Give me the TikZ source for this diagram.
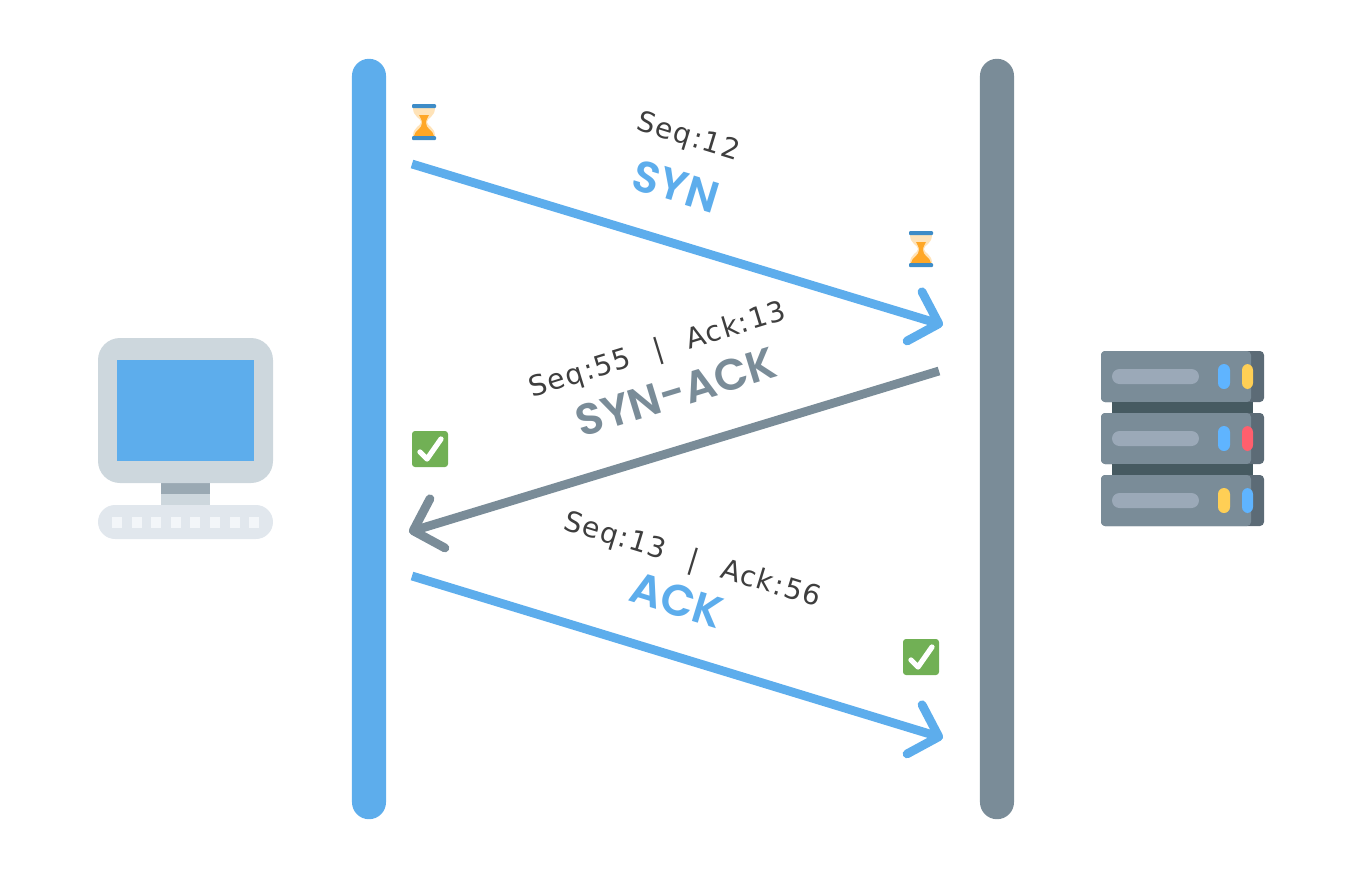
\documentclass[tikz,border=0pt]{standalone}
\usepackage{fontspec}
\setmainfont{DejaVu Sans}
\newfontfamily\seqfont[LetterSpace=5,WordSpace=2.4]{DejaVu Sans}
\newfontfamily\flagfont{Poppins SemiBold}
\usepackage{tikz}
\usetikzlibrary{arrows.meta}
\definecolor{cblue}{HTML}{5DADEC}
\definecolor{sgray}{HTML}{7A8C98}
\definecolor{sdark}{HTML}{5C6B76}
\definecolor{sbelt}{HTML}{465A61}
\definecolor{spill}{HTML}{9BA9B8}
\definecolor{frame}{HTML}{CDD7DD}
\definecolor{stem}{HTML}{9AA9B3}
\definecolor{board}{HTML}{E1E7ED}
\definecolor{keycap}{HTML}{F3F6F9}
\definecolor{ledblue}{HTML}{5FB4FF}
\definecolor{ledyellow}{HTML}{FFCF55}
\definecolor{ledred}{HTML}{FF5F6D}
\definecolor{sandlight}{HTML}{FFE3B8}
\definecolor{sand}{HTML}{FFA726}
\definecolor{glassbar}{HTML}{3E8CC7}
\definecolor{okgreen}{HTML}{71B055}
\definecolor{txtgray}{HTML}{3E3E3E}

\begin{document}
\begin{tikzpicture}[x=0.01cm, y=-0.01cm,
  lifeline/.style={rounded corners=0.17cm, minimum width=0.34cm, minimum height=7.6cm, inner sep=0pt},
  msg/.style={line width=2.5pt, -{Straight Barb[length=7.2pt,width=14.6pt,round]}},
  seqlabel/.style={font=\seqfont\fontsize{8}{10}\selectfont, text=txtgray, inner sep=0pt},
  flaglabel/.style={font=\flagfont\fontsize{12.5}{15}\selectfont, inner sep=0pt},
  hourglass/.pic={
    \fill[sandlight] (-11,4) -- (11,4) .. controls (11,13) and (3,14) .. (3,18) .. controls (3,22) and (11,23) .. (11,32) -- (-11,32) .. controls (-11,23) and (-3,22) .. (-3,18) .. controls (-3,14) and (-11,13) .. (-11,4) -- cycle;
    \fill[sand] (-5,11) -- (5,11) .. controls (4,14) and (2,15) .. (2,19) .. controls (2,25) and (9,26) .. (10,32) -- (-10,32) .. controls (-9,26) and (-2,25) .. (-2,19) .. controls (-2,15) and (-4,14) .. (-5,11) -- cycle;
    \fill[glassbar, rounded corners=0.01cm] (-12,0) rectangle (12,4);
    \fill[glassbar, rounded corners=0.01cm] (-12,32) rectangle (12,36);
  },
  checkbox/.pic={
    \fill[okgreen, rounded corners=0.03cm] (0,0) rectangle (36,36);
    \draw[white, line width=1.5pt, line cap=round, line join=round] (8,21) -- (15,28) -- (29,8);
  }]
  \useasboundingbox (0,0) rectangle (1350,878);
  \node[lifeline, fill=cblue] (client) at (369,439) {};
  \node[lifeline, fill=sgray] (server) at (997,439) {};

  \coordinate (synfrom) at (412,164);
  \coordinate (synto) at (943,325);
  \coordinate (sackfrom) at (939,371);
  \coordinate (sackto) at (409,532);
  \coordinate (ackfrom) at (412,576);
  \coordinate (ackto) at (943,738);
  \draw[msg, cblue] (synfrom) -- (synto);
  \draw[msg, sgray] (sackfrom) -- (sackto);
  \draw[msg, cblue] (ackfrom) -- (ackto);

  \node[seqlabel, rotate=-17] (synseq) at (688,138) {Seq:12};
  \node[flaglabel, rotate=-17, text=cblue] (synflag) at (676,186) {SYN};
  \node[seqlabel, rotate=17] (sackseq) at (658,351) {Seq:55 | Ack:13};
  \node[flaglabel, rotate=17, text=sgray] (sackflag) at (676,392) {SYN-ACK};
  \node[seqlabel, rotate=-17] (ackseq) at (692,561) {Seq:13 | Ack:56};
  \node[flaglabel, rotate=-17, text=cblue] (ackflag) at (677,600) {ACK};

  \pic at (424,104) {hourglass};
  \pic at (921,231) {hourglass};
  \pic at (412,431) {checkbox};
  \pic at (903,639) {checkbox};

  \fill[frame] (161,480) rectangle (210,506);
  \fill[stem] (161,483) rectangle (210,494);
  \fill[frame, rounded corners=0.22cm] (98,338) rectangle (273,483);
  \fill[cblue] (117,360) rectangle (254,461);
  \fill[board, rounded corners=0.17cm] (98,505) rectangle (273,539);
  \foreach \k in {0,...,7}
    \fill[keycap] ({112+19.6*\k},517) rectangle ++(10,11);

  \foreach \y/\ledone/\ledtwo in {351/ledblue/ledyellow, 413/ledblue/ledred, 475/ledyellow/ledblue} {
    \fill[sdark, rounded corners=0.04cm] (1101,\y) rectangle ++(163,51);
    \fill[sgray, rounded corners=0.04cm] (1101,\y) rectangle ++(150,51);
    \fill[spill, rounded corners=0.075cm] (1112,\y+18) rectangle (1199,\y+33);
    \fill[\ledone, rounded corners=0.06cm] (1218,\y+13) rectangle (1230,\y+38);
    \fill[\ledtwo, rounded corners=0.06cm] (1242,\y+13) rectangle (1253,\y+38);
  }
  \fill[sbelt] (1112,402) rectangle (1253,413);
  \fill[sbelt] (1112,464) rectangle (1253,475);
\end{tikzpicture}
\end{document}
